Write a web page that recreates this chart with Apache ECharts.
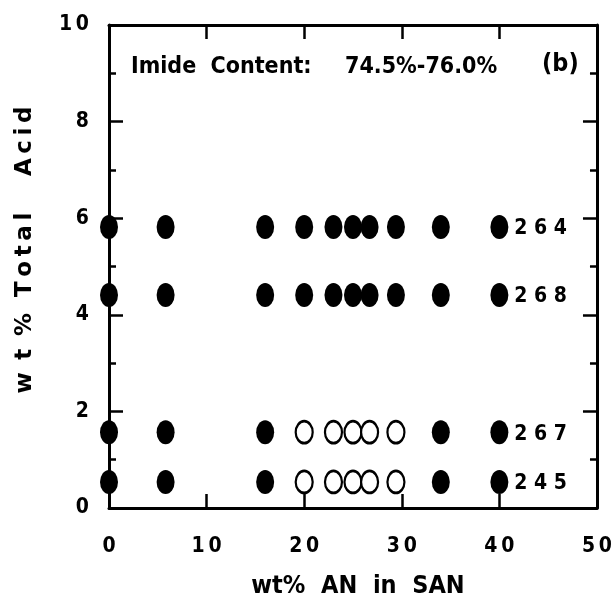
<!DOCTYPE html>
<html>
<head>
<meta charset="utf-8">
<script src="https://cdn.jsdelivr.net/npm/echarts@6/dist/echarts.min.js"></script>
<style>html,body{margin:0;padding:0;background:#fff}#c{width:615px;height:596px}</style>
</head>
<body>
<div id="c"></div>
<script>
// ---- data ----
const xAN = [0, 5.8, 16, 20, 23, 25, 26.7, 29.4, 34, 40];     // wt% AN in SAN
const openX = [20, 23, 25, 26.7, 29.4];                         // open markers (rows 267, 245)
const rowNames = ['264', '268', '267', '245'];
const rowAcid = [5.82, 4.41, 1.57, 0.54];                       // wt% total acid
const rowHasOpen = [false, false, true, true];
const xTicks = [0, 10, 20, 30, 40, 50];
const yTicks = [0, 2, 4, 6, 8, 10];
const titleLeft = 'Imide  Content:';
const titleRight = '74.5%-76.0%';
const panelTag = '(b)';
const xName = 'wt%  AN  in  SAN';
const yName = 'w \u2009t \u2009%  T\u2009o\u2009t\u2009a\u2009l    \u2009A\u2009c\u2009i\u2009d';

const FONT = '"DejaVu Sans Condensed","Liberation Sans",sans-serif';
const FONT_W = '"DejaVu Sans","Liberation Sans",sans-serif';
const spaced = s => String(s).split('').join('\u2009');

const filledData = [], openData = [];
rowNames.forEach((name, r) => {
  xAN.forEach(x => {
    const isOpen = rowHasOpen[r] && openX.indexOf(x) >= 0;
    const pt = { value: [x, rowAcid[r]] };
    if (x === xAN[xAN.length - 1]) {
      pt.label = { show: true, position: 'right', distance: 6, offset: [0, 2], formatter: name.split('').join(' '),
        color: '#000', fontSize: 21, fontWeight: 'bold', fontFamily: FONT };
    }
    (isOpen ? openData : filledData).push(pt);
  });
});

const axisLine = { show: true, onZero: false, lineStyle: { color: '#000', width: 3 } };
const tickStyle = { color: '#000', width: 2.5 };
const labelStyle = { color: '#000', fontSize: 21, fontWeight: 'bold', fontFamily: FONT };

const chart = echarts.init(document.getElementById('c'), null, { renderer: 'canvas' });
chart.setOption({
  animation: false,
  backgroundColor: '#fff',
  grid: { left: 109, right: 17, top: 25, bottom: 88 },
  graphic: [
    { type: 'text', left: 131, top: 56, style: { text: titleLeft, fill: '#000', font: 'bold 23px ' + FONT } },
    { type: 'text', left: 345, top: 56, style: { text: titleRight, fill: '#000', font: 'bold 23px ' + FONT } },
    { type: 'text', left: 542, top: 52, style: { text: panelTag, fill: '#000', font: 'bold 25px ' + FONT } },
    { type: 'text', x: 358, y: 586, style: { text: xName, fill: '#000', font: 'bold 25px ' + FONT, align: 'center', verticalAlign: 'middle' } },
    { type: 'text', x: 25, y: 250, rotation: Math.PI / 2, style: { text: yName, fill: '#000', font: 'bold 23px ' + FONT_W, align: 'center', verticalAlign: 'middle' } }
  ],
  xAxis: [
    { type: 'value', position: 'bottom', min: xTicks[0], max: xTicks[xTicks.length - 1], interval: 10,
      axisLine, axisTick: { inside: true, length: 14, lineStyle: tickStyle },
      axisLabel: Object.assign({ margin: 28, formatter: v => spaced(v) }, labelStyle),
      splitLine: { show: false } },
    { type: 'value', position: 'top', min: xTicks[0], max: xTicks[xTicks.length - 1], interval: 10,
      axisLine, axisTick: { inside: true, length: 14, lineStyle: tickStyle },
      axisLabel: { show: false }, splitLine: { show: false } }
  ],
  yAxis: [
    { type: 'value', position: 'left', min: yTicks[0], max: yTicks[yTicks.length - 1], interval: 2,
      axisLine, axisTick: { inside: true, length: 14, lineStyle: tickStyle },
      minorTick: { show: true, splitNumber: 2, length: 7, lineStyle: tickStyle },
      axisLabel: Object.assign({ margin: 20, formatter: v => spaced(v) }, labelStyle),
      splitLine: { show: false }, minorSplitLine: { show: false } },
    { type: 'value', position: 'right', min: yTicks[0], max: yTicks[yTicks.length - 1], interval: 2,
      axisLine, axisTick: { inside: true, length: 14, lineStyle: tickStyle },
      minorTick: { show: true, splitNumber: 2, length: 7, lineStyle: tickStyle },
      axisLabel: { show: false }, splitLine: { show: false }, minorSplitLine: { show: false } }
  ],
  series: [
    { type: 'scatter', name: 'filled', data: filledData, clip: false, symbol: 'circle', symbolSize: [18, 24],
      itemStyle: { color: '#000', opacity: 1 }, z: 5 },
    { type: 'scatter', name: 'open', data: openData, clip: false, symbol: 'circle', symbolSize: [17, 22],
      itemStyle: { color: '#fff', borderColor: '#000', borderWidth: 2.5, opacity: 1 }, z: 5 }
  ]
});
</script>
</body>
</html>
